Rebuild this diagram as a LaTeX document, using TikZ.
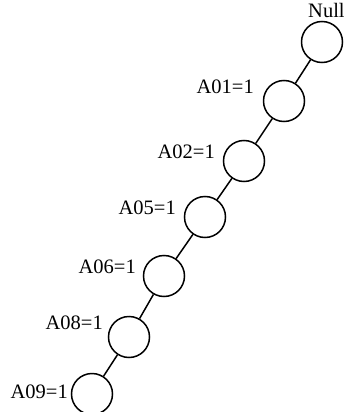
\documentclass[tikz,border=0pt]{standalone}
\usepackage{fontspec}
\setmainfont{Liberation Serif}
\begin{document}
\begin{tikzpicture}[x=1pt,y=-1pt,
  vnode/.style={circle,draw,line width=1.5pt,minimum size=41pt,inner sep=0pt},
  lbl/.style={inner sep=0pt,font=\fontsize{20.5}{22}\selectfont},
  edge/.style={line width=1.5pt}]
\useasboundingbox (0,0) rectangle (344,412);
\node[vnode] (n0) at (322,42) {};
\node[vnode] (n1) at (284,101) {};
\node[vnode] (n2) at (244,161) {};
\node[vnode] (n5) at (205,217) {};
\node[vnode] (n6) at (164,276) {};
\node[vnode] (n8) at (129,337) {};
\node[vnode] (n9) at (92,394) {};
\draw[edge] (n0) -- (n1);
\draw[edge] (n1) -- (n2);
\draw[edge] (n2) -- (n5);
\draw[edge] (n5) -- (n6);
\draw[edge] (n6) -- (n8);
\draw[edge] (n8) -- (n9);
\node[lbl,anchor=base west] (l0) at (308,18) {Null};
\node[lbl,anchor=base east] (l1) at (254,93) {A01=1};
\node[lbl,anchor=base east] (l2) at (215,158) {A02=1};
\node[lbl,anchor=base east] (l5) at (176,214) {A05=1};
\node[lbl,anchor=base east] (l6) at (136,273) {A06=1};
\node[lbl,anchor=base east] (l8) at (103,329) {A08=1};
\node[lbl,anchor=base east] (l9) at (68,398) {A09=1};
\end{tikzpicture}
\end{document}
